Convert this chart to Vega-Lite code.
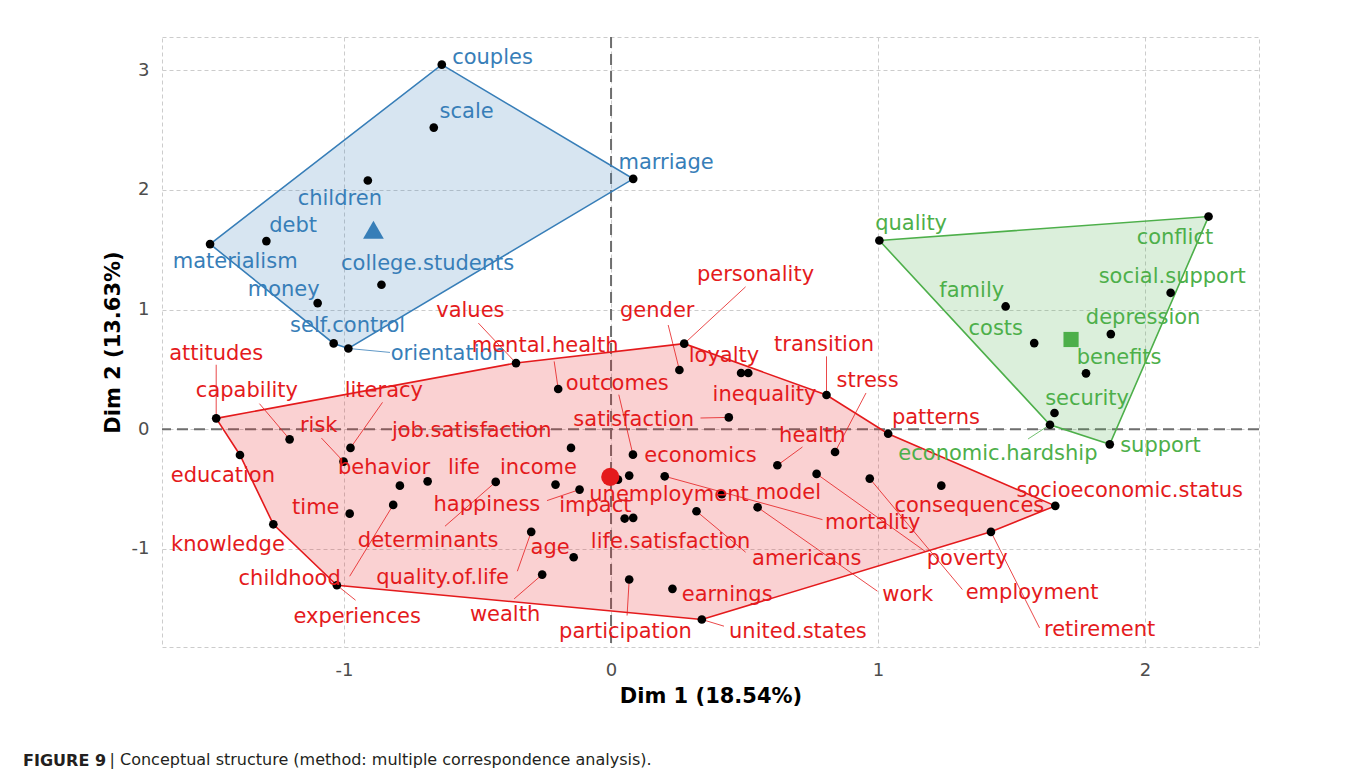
{
  "$schema": "https://vega.github.io/schema/vega-lite/v6.json",
  "width": 1097,
  "height": 610,
  "autosize": {"type": "none"},
  "padding": {"left": 162, "top": 37, "right": 101, "bottom": 129},
  "background": "white",
  "title": {
    "text": "FIGURE 9",
    "subtitle": "\u200b\u00a0\u00a0\u00a0\u00a0\u00a0\u00a0\u00a0\u00a0\u00a0\u00a0\u00a0\u00a0\u00a0\u00a0\u00a0\u00a0\u00a0| Conceptual structure (method: multiple correspondence analysis).",
    "orient": "bottom",
    "anchor": "start",
    "frame": "bounds",
    "font": "DejaVu Sans",
    "fontSize": 16,
    "fontWeight": "bold",
    "color": "#231F20",
    "subtitleFont": "DejaVu Sans",
    "subtitleFontSize": 16,
    "subtitleFontWeight": "normal",
    "subtitleColor": "#231F20",
    "subtitlePadding": -17,
    "offset": 47,
    "dx": -79
  },
  "config": {
    "font": "DejaVu Sans",
    "view": {"stroke": "#CCCCCC", "strokeWidth": 1, "strokeDash": [4, 3]},
    "axis": {
      "domain": false,
      "ticks": false,
      "grid": true,
      "gridColor": "#CCCCCC",
      "gridDash": [4, 3],
      "gridWidth": 1,
      "labelFont": "DejaVu Sans",
      "labelFontSize": 18,
      "labelColor": "#4D4D4D",
      "labelExpr": "'' + datum.value",
      "titleFont": "DejaVu Sans",
      "titleFontSize": 21,
      "titleFontWeight": "bold",
      "titleColor": "#000000"
    },
    "axisX": {"labelPadding": 14, "titlePadding": 6},
    "axisY": {"labelPadding": 13, "titlePadding": 8}
  },
  "datasets": {
    "zero": [{"x": 0, "y": 0}],
    "cent": [
      {"cluster": "c1", "x": -0.890, "y": 1.666},
      {"cluster": "c2", "x": -0.003, "y": -0.398},
      {"cluster": "c3", "x": 1.723, "y": 0.750}
    ],
    "pts": [
      {"word": "couples", "cluster": "c1", "x": -0.634, "y": 3.046, "lx": -0.444, "ly": 3.104, "h": 2},
      {"word": "scale", "cluster": "c1", "x": -0.664, "y": 2.520, "lx": -0.541, "ly": 2.654},
      {"word": "children", "cluster": "c1", "x": -0.911, "y": 2.078, "lx": -1.016, "ly": 1.922},
      {"word": "debt", "cluster": "c1", "x": -1.291, "y": 1.572, "lx": -1.191, "ly": 1.699},
      {"word": "materialism", "cluster": "c1", "x": -1.502, "y": 1.547, "lx": -1.408, "ly": 1.396, "h": 1},
      {"word": "college.students", "cluster": "c1", "x": -0.860, "y": 1.207, "lx": -0.687, "ly": 1.380},
      {"word": "money", "cluster": "c1", "x": -1.099, "y": 1.054, "lx": -1.226, "ly": 1.165},
      {"word": "self.control", "cluster": "c1", "x": -1.039, "y": 0.717, "lx": -0.987, "ly": 0.865, "h": 5},
      {"word": "orientation", "cluster": "c1", "x": -0.984, "y": 0.675, "lx": -0.610, "ly": 0.628, "sx": -0.828, "sy": 0.642, "h": 4},
      {"word": "marriage", "cluster": "c1", "x": 0.083, "y": 2.092, "lx": 0.206, "ly": 2.228, "h": 3},

      {"word": "quality", "cluster": "c3", "x": 1.005, "y": 1.577, "lx": 1.124, "ly": 1.714, "h": 1},
      {"word": "conflict", "cluster": "c3", "x": 2.238, "y": 1.777, "lx": 2.112, "ly": 1.597, "h": 2},
      {"word": "social.support", "cluster": "c3", "x": 2.096, "y": 1.140, "lx": 2.102, "ly": 1.271},
      {"word": "family", "cluster": "c3", "x": 1.478, "y": 1.026, "lx": 1.351, "ly": 1.151},
      {"word": "costs", "cluster": "c3", "x": 1.585, "y": 0.720, "lx": 1.441, "ly": 0.837},
      {"word": "depression", "cluster": "c3", "x": 1.872, "y": 0.795, "lx": 1.993, "ly": 0.926},
      {"word": "benefits", "cluster": "c3", "x": 1.779, "y": 0.467, "lx": 1.903, "ly": 0.595},
      {"word": "security", "cluster": "c3", "x": 1.661, "y": 0.136, "lx": 1.783, "ly": 0.255},
      {"word": "economic.hardship", "cluster": "c3", "x": 1.644, "y": 0.038, "lx": 1.449, "ly": -0.206, "sx": 1.562, "sy": -0.081, "h": 4},
      {"word": "support", "cluster": "c3", "x": 1.868, "y": -0.126, "lx": 2.058, "ly": -0.143, "h": 3},

      {"word": "attitudes", "cluster": "c2", "x": -1.479, "y": 0.091, "lx": -1.479, "ly": 0.628, "sx": -1.479, "sy": 0.539, "h": 1},
      {"word": "capability", "cluster": "c2", "x": -1.204, "y": -0.084, "lx": -1.364, "ly": 0.316, "sx": -1.317, "sy": 0.214},
      {"word": "education", "cluster": "c2", "x": -1.390, "y": -0.215, "lx": -1.454, "ly": -0.393, "h": 11},
      {"word": "risk", "cluster": "c2", "x": -1.002, "y": -0.270, "lx": -1.095, "ly": 0.030, "sx": -1.085, "sy": -0.073},
      {"word": "literacy", "cluster": "c2", "x": -0.976, "y": -0.156, "lx": -0.851, "ly": 0.322, "sx": -0.856, "sy": 0.225},
      {"word": "job.satisfaction", "cluster": "c2", "x": -0.150, "y": -0.156, "lx": -0.522, "ly": -0.017},
      {"word": "behavior", "cluster": "c2", "x": -0.791, "y": -0.471, "lx": -0.850, "ly": -0.323},
      {"word": "life", "cluster": "c2", "x": -0.687, "y": -0.435, "lx": -0.551, "ly": -0.323},
      {"word": "income", "cluster": "c2", "x": -0.208, "y": -0.462, "lx": -0.272, "ly": -0.323},
      {"word": "happiness", "cluster": "c2", "x": -0.118, "y": -0.504, "lx": -0.465, "ly": -0.629, "sx": -0.240, "sy": -0.596},
      {"word": "time", "cluster": "c2", "x": -0.979, "y": -0.705, "lx": -1.106, "ly": -0.657},
      {"word": "knowledge", "cluster": "c2", "x": -1.265, "y": -0.794, "lx": -1.435, "ly": -0.963, "h": 10},
      {"word": "determinants", "cluster": "c2", "x": -0.432, "y": -0.440, "lx": -0.685, "ly": -0.936, "sx": -0.622, "sy": -0.810},
      {"word": "childhood", "cluster": "c2", "x": -0.816, "y": -0.632, "lx": -1.204, "ly": -1.255, "sx": -0.979, "sy": -1.228},
      {"word": "experiences", "cluster": "c2", "x": -1.027, "y": -1.303, "lx": -0.951, "ly": -1.567, "sx": -0.957, "sy": -1.428, "h": 9},
      {"word": "age", "cluster": "c2", "x": -0.140, "y": -1.069, "lx": -0.228, "ly": -0.991},
      {"word": "quality.of.life", "cluster": "c2", "x": -0.299, "y": -0.857, "lx": -0.631, "ly": -1.241, "sx": -0.351, "sy": -1.186},
      {"word": "wealth", "cluster": "c2", "x": -0.258, "y": -1.214, "lx": -0.397, "ly": -1.548, "sx": -0.363, "sy": -1.417},
      {"word": "values", "cluster": "c2", "x": -0.356, "y": 0.553, "lx": -0.527, "ly": 0.990, "sx": -0.497, "sy": 0.887, "h": 2},
      {"word": "mental.health", "cluster": "c2", "x": -0.198, "y": 0.336, "lx": -0.247, "ly": 0.695, "sx": -0.213, "sy": 0.567},
      {"word": "gender", "cluster": "c2", "x": 0.256, "y": 0.495, "lx": 0.173, "ly": 0.990, "sx": 0.214, "sy": 0.871},
      {"word": "personality", "cluster": "c2", "x": 0.274, "y": 0.715, "lx": 0.541, "ly": 1.291, "sx": 0.504, "sy": 1.190, "h": 3},
      {"word": "loyalty", "cluster": "c2", "x": 0.487, "y": 0.470, "lx": 0.423, "ly": 0.609},
      {"word": "inequality", "cluster": "c2", "x": 0.514, "y": 0.470, "lx": 0.575, "ly": 0.289},
      {"word": "outcomes", "cluster": "c2", "x": 0.082, "y": -0.212, "lx": 0.023, "ly": 0.381, "sx": 0.029, "sy": 0.289},
      {"word": "satisfaction", "cluster": "c2", "x": 0.441, "y": 0.099, "lx": 0.085, "ly": 0.074, "sx": 0.335, "sy": 0.094},
      {"word": "transition", "cluster": "c2", "x": 0.807, "y": 0.286, "lx": 0.798, "ly": 0.706, "sx": 0.807, "sy": 0.609, "h": 4},
      {"word": "stress", "cluster": "c2", "x": 0.839, "y": -0.190, "lx": 0.961, "ly": 0.400, "sx": 0.955, "sy": 0.303},
      {"word": "patterns", "cluster": "c2", "x": 1.038, "y": -0.037, "lx": 1.217, "ly": 0.094, "h": 5},
      {"word": "health", "cluster": "c2", "x": 0.623, "y": -0.301, "lx": 0.754, "ly": -0.059, "sx": 0.717, "sy": -0.148},
      {"word": "economics", "cluster": "c2", "x": 0.068, "y": -0.387, "lx": 0.335, "ly": -0.226},
      {"word": "unemployment", "cluster": "c2", "x": 0.026, "y": -0.421, "lx": 0.217, "ly": -0.552},
      {"word": "model", "cluster": "c2", "x": 0.415, "y": -0.543, "lx": 0.664, "ly": -0.532},
      {"word": "mortality", "cluster": "c2", "x": 0.201, "y": -0.393, "lx": 0.980, "ly": -0.782, "sx": 0.792, "sy": -0.755},
      {"word": "impact", "cluster": "c2", "x": 0.051, "y": -0.746, "lx": -0.059, "ly": -0.644},
      {"word": "life.satisfaction", "cluster": "c2", "x": 0.083, "y": -0.740, "lx": 0.223, "ly": -0.941},
      {"word": "americans", "cluster": "c2", "x": 0.320, "y": -0.685, "lx": 0.733, "ly": -1.083, "sx": 0.504, "sy": -1.027},
      {"word": "work", "cluster": "c2", "x": 0.549, "y": -0.652, "lx": 1.111, "ly": -1.386, "sx": 0.998, "sy": -1.353},
      {"word": "poverty", "cluster": "c2", "x": 0.770, "y": -0.373, "lx": 1.334, "ly": -1.088, "sx": 1.176, "sy": -1.019},
      {"word": "employment", "cluster": "c2", "x": 0.969, "y": -0.412, "lx": 1.577, "ly": -1.372, "sx": 1.316, "sy": -1.339},
      {"word": "consequences", "cluster": "c2", "x": 1.237, "y": -0.471, "lx": 1.342, "ly": -0.644},
      {"word": "socioeconomic.status", "cluster": "c2", "x": 1.664, "y": -0.640, "lx": 1.943, "ly": -0.513, "h": 6},
      {"word": "retirement", "cluster": "c2", "x": 1.423, "y": -0.857, "lx": 1.830, "ly": -1.673, "sx": 1.605, "sy": -1.659, "h": 7},
      {"word": "participation", "cluster": "c2", "x": 0.068, "y": -1.255, "lx": 0.054, "ly": -1.692, "sx": 0.060, "sy": -1.556},
      {"word": "earnings", "cluster": "c2", "x": 0.230, "y": -1.333, "lx": 0.435, "ly": -1.386},
      {"word": "united.states", "cluster": "c2", "x": 0.340, "y": -1.589, "lx": 0.700, "ly": -1.692, "sx": 0.423, "sy": -1.645, "h": 8}
    ]
  },
  "layer": [
    {
      "data": {"name": "zero"},
      "mark": {"type": "rule", "color": "#6E6E6E", "strokeWidth": 2, "strokeDash": [11, 6]},
      "encoding": {
        "x": {
          "field": "x", "type": "quantitative",
          "scale": {"domain": [-1.682, 2.427], "nice": false, "zero": false},
          "axis": {"values": [-1, 0, 1, 2], "title": "Dim 1 (18.54%)"}
        }
      }
    },
    {
      "data": {"name": "zero"},
      "mark": {"type": "rule", "color": "#6E6E6E", "strokeWidth": 2, "strokeDash": [11, 6]},
      "encoding": {
        "y": {
          "field": "y", "type": "quantitative",
          "scale": {"domain": [-1.819, 3.277], "nice": false, "zero": false},
          "axis": {"values": [-1, 0, 1, 2, 3], "title": "Dim 2 (13.63%)"}
        }
      }
    },
    {
      "data": {"name": "pts"},
      "transform": [{"filter": "datum.h != null"}],
      "mark": {"type": "line", "interpolate": "linear-closed", "strokeWidth": 1.6, "fillOpacity": 0.2},
      "encoding": {
        "x": {"field": "x", "type": "quantitative", "title": "Dim 1 (18.54%)"},
        "y": {"field": "y", "type": "quantitative", "title": "Dim 2 (13.63%)"},
        "order": {"field": "h", "type": "quantitative"},
        "stroke": {"field": "cluster", "type": "nominal", "scale": {"domain": ["c1", "c2", "c3"], "range": ["#377EB8", "#E41A1C", "#4DAF4A"]}, "legend": null},
        "fill": {"field": "cluster", "type": "nominal", "scale": {"domain": ["c1", "c2", "c3"], "range": ["#377EB8", "#E41A1C", "#4DAF4A"]}, "legend": null}
      }
    },
    {
      "data": {"name": "pts"},
      "transform": [{"filter": "datum.sx != null"}],
      "mark": {"type": "rule", "strokeWidth": 0.8},
      "encoding": {
        "x": {"field": "x", "type": "quantitative", "title": "Dim 1 (18.54%)"},
        "y": {"field": "y", "type": "quantitative", "title": "Dim 2 (13.63%)"},
        "x2": {"field": "sx"},
        "y2": {"field": "sy"},
        "color": {"field": "cluster", "type": "nominal", "scale": {"domain": ["c1", "c2", "c3"], "range": ["#377EB8", "#E41A1C", "#4DAF4A"]}, "legend": null}
      }
    },
    {
      "data": {"name": "pts"},
      "mark": {"type": "circle", "size": 75, "color": "#000000", "opacity": 1},
      "encoding": {
        "x": {"field": "x", "type": "quantitative", "title": "Dim 1 (18.54%)"},
        "y": {"field": "y", "type": "quantitative", "title": "Dim 2 (13.63%)"}
      }
    },
    {
      "data": {"name": "cent"},
      "mark": {"type": "point", "filled": true, "opacity": 1},
      "encoding": {
        "x": {"field": "x", "type": "quantitative", "title": "Dim 1 (18.54%)"},
        "y": {"field": "y", "type": "quantitative", "title": "Dim 2 (13.63%)"},
        "shape": {"field": "cluster", "type": "nominal", "scale": {"domain": ["c1", "c2", "c3"], "range": ["triangle-up", "circle", "square"]}, "legend": null},
        "size": {"field": "cluster", "type": "nominal", "scale": {"domain": ["c1", "c2", "c3"], "range": [430, 230, 300]}, "legend": null},
        "color": {"field": "cluster", "type": "nominal", "scale": {"domain": ["c1", "c2", "c3"], "range": ["#377EB8", "#E41A1C", "#4DAF4A"]}, "legend": null}
      }
    },
    {
      "data": {"name": "pts"},
      "mark": {"type": "text", "fontSize": 21, "font": "DejaVu Sans", "align": "center", "baseline": "middle"},
      "encoding": {
        "x": {"field": "lx", "type": "quantitative", "title": "Dim 1 (18.54%)"},
        "y": {"field": "ly", "type": "quantitative", "title": "Dim 2 (13.63%)"},
        "text": {"field": "word"},
        "color": {"field": "cluster", "type": "nominal", "scale": {"domain": ["c1", "c2", "c3"], "range": ["#377EB8", "#E41A1C", "#4DAF4A"]}, "legend": null}
      }
    }
  ]
}
